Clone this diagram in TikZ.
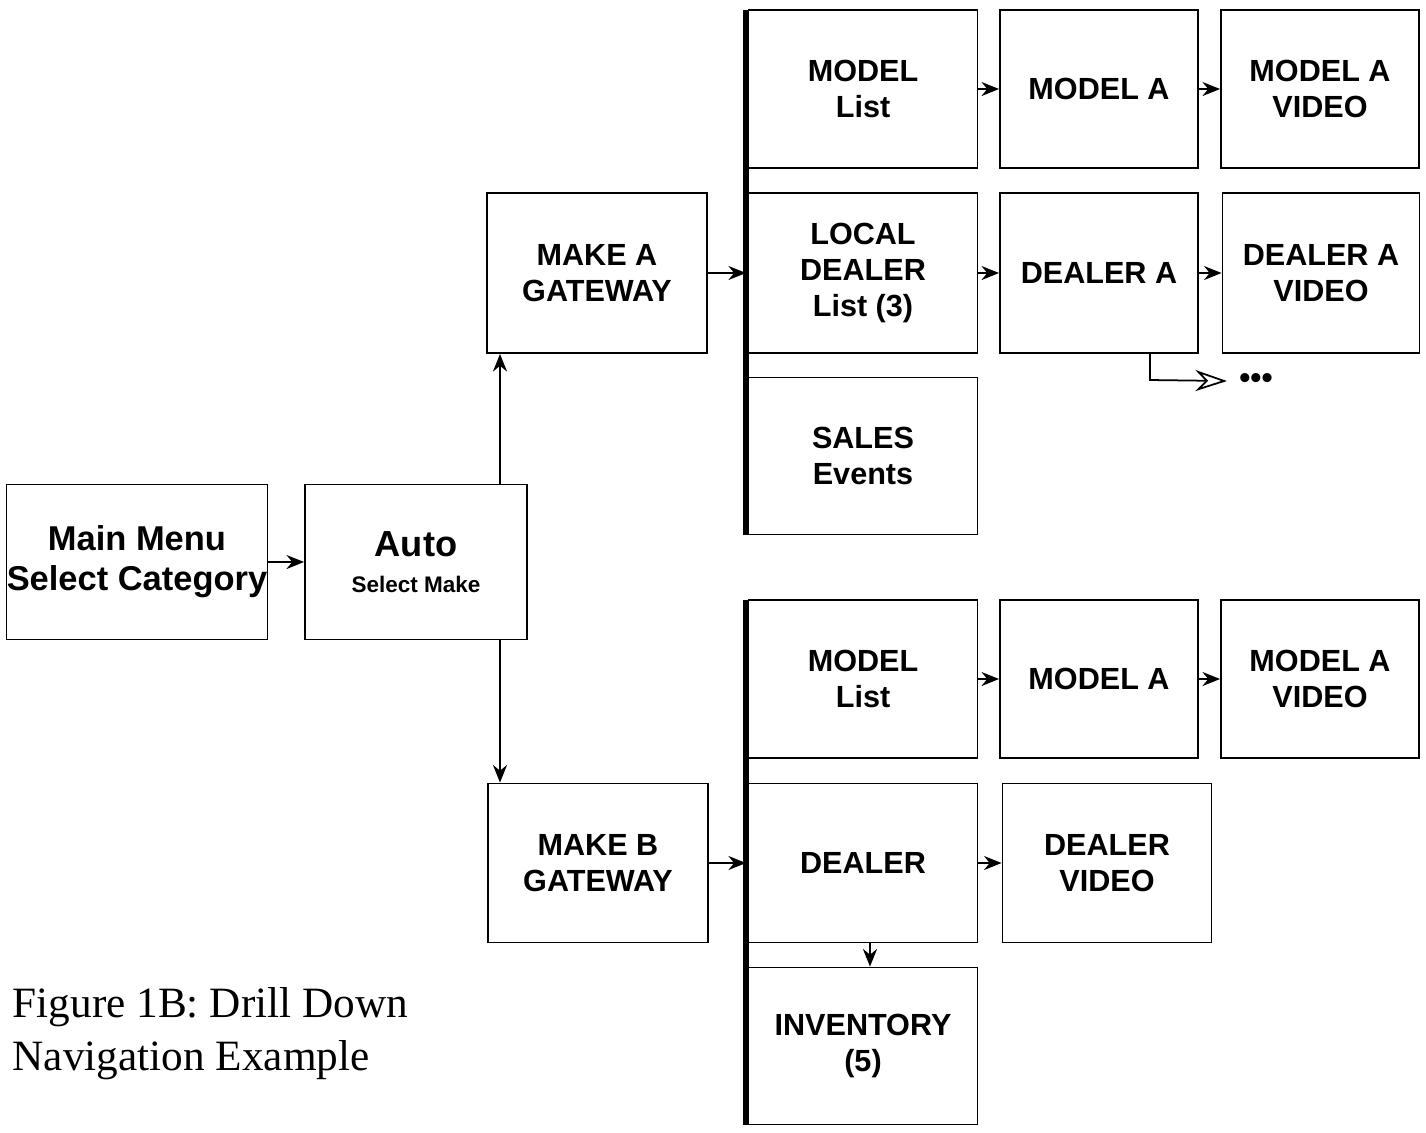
\documentclass[tikz,border=0pt]{standalone}
\usepackage{fontspec}
\setsansfont{Liberation Sans}
\setmainfont{Liberation Serif}
\usetikzlibrary{arrows.meta}

\tikzset{
	box/.style={draw, line width=0.5pt, align=center, font=\sffamily\bfseries\fontsize{8.7}{10.2}\selectfont, minimum height=1.58cm, inner sep=0pt},
	wide/.style={minimum width=2.29cm},
	narrow/.style={minimum width=1.98cm},
	link/.style={line width=0.5pt, -{Stealth[length=5pt, width=4pt]}},
	bar/.style={line width=1.6pt}
}

\begin{document}
\begin{tikzpicture}[x=0.01cm, y=-0.01cm]
	\useasboundingbox (0, 0) rectangle (1426, 1132);

	% left part
	\node [box, minimum width=2.61cm, minimum height=1.55cm, font=\sffamily\bfseries\fontsize{9.8}{11.4}\selectfont] (menu) at (137, 562) {Main Menu\\Select Category};
	\node [box, minimum width=2.22cm, minimum height=1.55cm] (auto) at (416, 562) {{\fontsize{10.3}{11.4}\selectfont Auto}\\{\fontsize{6.4}{8}\selectfont Select Make}};
	\node [box, minimum width=2.2cm, minimum height=1.6cm] (makea) at (597, 273) {MAKE A\\GATEWAY};
	\node [box, minimum width=2.2cm, minimum height=1.59cm] (makeb) at (598, 863) {MAKE B\\GATEWAY};

	% make A branch
	\coordinate (bartopa) at (746, 10);
	\coordinate (barbota) at (746, 535);
	\node [box, wide] (modlista) at (863, 89) {MODEL\\List};
	\node [box, narrow] (modela) at (1099, 89) {MODEL A};
	\node [box, narrow] (videoa) at (1320, 89) {MODEL A\\VIDEO};
	\node [box, wide, minimum height=1.6cm] (local) at (863, 273) {LOCAL\\DEALER\\List (3)};
	\node [box, narrow, minimum height=1.6cm] (dealera) at (1099, 273) {DEALER A};
	\node [box, minimum width=1.97cm, minimum height=1.6cm] (dealervid) at (1321, 273) {DEALER A\\VIDEO};
	\node [box, wide, minimum height=1.57cm] (sales) at (863, 456) {SALES\\Events};
	\coordinate (bend) at (1150, 380);
	\node [font=\sffamily\bfseries\fontsize{9}{10}\selectfont] (more) at (1256, 381) {\textbullet\textbullet\textbullet};

	% make B branch
	\coordinate (bartopb) at (746, 600);
	\coordinate (barbotb) at (746, 1125);
	\node [box, wide] (modlistb) at (863, 679) {MODEL\\List};
	\node [box, narrow] (modelb) at (1099, 679) {MODEL A};
	\node [box, narrow] (videob) at (1320, 679) {MODEL A\\VIDEO};
	\node [box, wide, minimum height=1.59cm] (dealer) at (863, 863) {DEALER};
	\node [box, minimum width=2.09cm, minimum height=1.59cm] (dealervidb) at (1107, 863) {DEALER\\VIDEO};
	\node [box, wide, minimum height=1.57cm] (inventory) at (863, 1046) {INVENTORY\\(5)};

	\draw [bar] (bartopa) -- (barbota);
	\draw [bar] (bartopb) -- (barbotb);

	\draw [link] (menu) -- (auto);
	\draw [link] (auto.north -| 500, 0) -- (makea.south -| 500, 0);
	\draw [link] (auto.south -| 500, 0) -- (makeb.north -| 500, 0);
	\draw [link] (makea) -- (makea.east -| bartopa);
	\draw [link] (makeb) -- (makeb.east -| bartopb);

	\draw [link] (modlista) -- (modela);
	\draw [link] (modela) -- (videoa);
	\draw [link] (local) -- (dealera);
	\draw [link] (dealera) -- (dealervid);
	\draw [line width=0.5pt, -{Stealth[open, length=9pt, width=6pt]}] (dealera.south -| bend) -- (bend) -- (more.west);

	\draw [link] (modlistb) -- (modelb);
	\draw [link] (modelb) -- (videob);
	\draw [link] (dealer) -- (dealervidb);
	\draw [link] (dealer.south -| 870, 0) -- (inventory.north -| 870, 0);

	% caption
	\node [anchor=base west, align=left, inner sep=0pt, font=\rmfamily\fontsize{12.3}{15}\selectfont] (caption) at (12, 1070) {Figure 1B: Drill Down\\Navigation Example};
\end{tikzpicture}
\end{document}
